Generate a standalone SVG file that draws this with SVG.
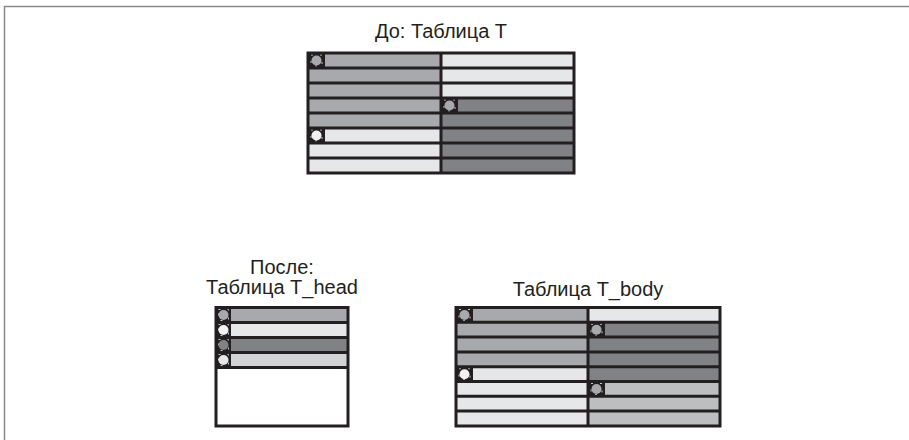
<svg xmlns="http://www.w3.org/2000/svg" width="909" height="440" viewBox="0 0 909 440">
<style>
.t{font-family:"Liberation Sans",Arial,sans-serif;font-size:20px;fill:#231f20;text-anchor:middle}
.g{stroke:#231f20;stroke-width:3;fill:none}
.m{fill:#a7a9ac}.l{fill:#e6e7e8}.d{fill:#808285}.s{fill:#bcbec0}.p{fill:#d1d3d4}.w{fill:#ffffff}
.kb{fill:#231f20}
.kd{fill:none;stroke:#c8c8c8;stroke-width:1;stroke-dasharray:2 7}
</style>
<defs>
<g id="key"><rect class="kb" x="0" y="0" width="17" height="15"/><rect class="kd" x="3" y="2" width="11" height="11"/><circle cx="8.5" cy="7.5" r="5" fill="#a7a9ac"/></g>
<g id="keyw"><rect class="kb" x="0" y="0" width="17" height="15"/><rect class="kd" x="3" y="2" width="11" height="11"/><circle cx="8.5" cy="7.5" r="5" fill="#f2f2f2"/></g>
</defs>
<path d="M4.5,440 V6.5 H909" fill="none" stroke="#8a8a8a" stroke-width="1.5"/>

<g id="tableT">
<text class="t" x="441" y="38">До: Таблица T</text>
<rect class="m" x="308" y="53" width="133" height="75"/>
<rect class="l" x="308" y="128" width="133" height="45"/>
<rect class="l" x="441" y="53" width="133" height="45"/>
<rect class="d" x="441" y="98" width="133" height="75"/>
<use href="#key" x="308" y="53"/>
<use href="#key" x="441" y="98"/>
<use href="#keyw" x="308" y="128"/>
<path class="g" d="M308,68H574M308,83H574M308,98H574M308,113H574M308,128H574M308,143H574M308,158H574M441,53V173"/>
<rect class="g" x="308" y="53" width="266" height="120"/>
</g>

<g id="tableHead">
<text class="t" x="282" y="274">После:</text>
<text class="t" x="282" y="294">Таблица T_head</text>
<rect class="m" x="216" y="307.5" width="132" height="15"/>
<rect class="l" x="216" y="322.5" width="132" height="15"/>
<rect class="d" x="216" y="337.5" width="132" height="15"/>
<rect class="p" x="216" y="352.5" width="132" height="15"/>
<rect class="w" x="216" y="367.5" width="132" height="58.5"/>
<rect class="kb" x="216" y="307.5" width="15" height="60"/>
<rect class="kd" x="218.5" y="309.5" width="10" height="11"/>
<rect class="kd" x="218.5" y="324.5" width="10" height="11"/>
<rect class="kd" x="218.5" y="339.5" width="10" height="11"/>
<rect class="kd" x="218.5" y="354.5" width="10" height="11"/>
<circle cx="223.5" cy="315" r="5" fill="#a7a9ac"/>
<circle cx="223.5" cy="330" r="5" fill="#f2f2f2"/>
<circle cx="223.5" cy="345" r="5" fill="#808285"/>
<circle cx="223.5" cy="360" r="5" fill="#e6e7e8"/>
<path class="g" d="M216,322.5H348M216,337.5H348M216,352.5H348M216,367.5H348"/>
<rect class="g" x="216" y="307.5" width="132" height="118.5"/>
</g>

<g id="tableBody">
<text class="t" x="588" y="296">Таблица T_body</text>
<rect class="m" x="456" y="307.5" width="132" height="59.2"/>
<rect class="l" x="456" y="366.7" width="132" height="59.3"/>
<rect class="l" x="588" y="307.5" width="132" height="14.8"/>
<rect class="d" x="588" y="322.3" width="132" height="59.2"/>
<rect class="s" x="588" y="381.5" width="132" height="44.5"/>
<use href="#key" x="456" y="307.5" transform="translate(0,0)"/>
<use href="#keyw" x="456" y="366.7"/>
<use href="#key" x="588" y="322.3"/>
<use href="#key" x="588" y="381.5"/>
<path class="g" d="M456,322.3H720M456,337.1H720M456,351.9H720M456,366.7H720M456,381.5H720M456,396.3H720M456,411.1H720M588,307.5V426"/>
<rect class="g" x="456" y="307.5" width="264" height="118.5"/>
</g>
</svg>
